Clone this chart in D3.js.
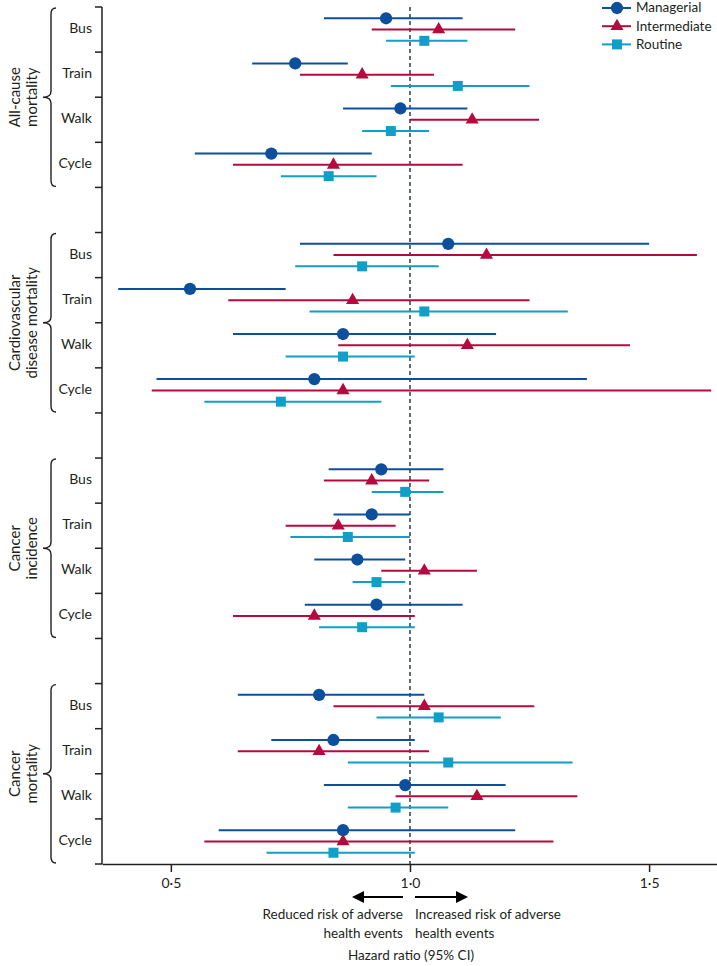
<!DOCTYPE html>
<html>
<head>
<meta charset="utf-8">
<script src="https://cdn.jsdelivr.net/npm/d3@7"></script>
<style>
  body { margin: 0; background: #fff; }
  svg text { font-family: Lato, 'Open Sans', sans-serif; fill: #231f20; }
</style>
</head>
<body>
<div id="main"></div>
<script>
// groups, modes and social classes
const groups = ["All-cause mortality", "Cardiovascular disease mortality", "Cancer incidence", "Cancer mortality"];
const groupLines = [["All-cause", "mortality"], ["Cardiovascular", "disease mortality"], ["Cancer", "incidence"], ["Cancer", "mortality"]];
const modes = ["Bus", "Train", "Walk", "Cycle"];
const classes = ["Managerial", "Intermediate", "Routine"];
const xTicks = [0.5, 1.0, 1.5];

// hazard ratios, 16 values each: group x mode
const managerialHR = [0.95, 0.76, 0.98, 0.71, 1.08, 0.54, 0.86, 0.80, 0.94, 0.92, 0.89, 0.93, 0.81, 0.84, 0.99, 0.86];
const managerialLo = [0.82, 0.67, 0.86, 0.55, 0.77, 0.39, 0.63, 0.47, 0.83, 0.84, 0.80, 0.78, 0.64, 0.71, 0.82, 0.60];
const managerialHi = [1.11, 0.87, 1.12, 0.92, 1.50, 0.74, 1.18, 1.37, 1.07, 1.00, 0.99, 1.11, 1.03, 1.01, 1.20, 1.22];

const intermediateHR = [1.06, 0.90, 1.13, 0.84, 1.16, 0.88, 1.12, 0.86, 0.92, 0.85, 1.03, 0.80, 1.03, 0.81, 1.14, 0.86];
const intermediateLo = [0.92, 0.77, 1.00, 0.63, 0.84, 0.62, 0.85, 0.46, 0.82, 0.74, 0.94, 0.63, 0.84, 0.64, 0.97, 0.57];
const intermediateHi = [1.22, 1.05, 1.27, 1.11, 1.60, 1.25, 1.46, 1.63, 1.04, 0.97, 1.14, 1.01, 1.26, 1.04, 1.35, 1.30];

const routineHR = [1.03, 1.10, 0.96, 0.83, 0.90, 1.03, 0.86, 0.73, 0.99, 0.87, 0.93, 0.90, 1.06, 1.08, 0.97, 0.84];
const routineLo = [0.95, 0.96, 0.90, 0.73, 0.76, 0.79, 0.74, 0.57, 0.92, 0.75, 0.88, 0.81, 0.93, 0.87, 0.87, 0.70];
const routineHi = [1.12, 1.25, 1.04, 0.93, 1.06, 1.33, 1.01, 0.94, 1.07, 1.00, 0.99, 1.01, 1.19, 1.34, 1.08, 1.01];

const width = 717;
const height = 966;
const plotLeft = 102;
const plotTop = 7;
const plotBottom = 864;

const colors = { Managerial: "#0c4f9c", Intermediate: "#b50a3e", Routine: "#0f9fc8" };
const symbols = { Managerial: d3.symbolCircle, Intermediate: d3.symbolTriangle, Routine: d3.symbolSquare };
const symSize = { Managerial: 118, Intermediate: 74, Routine: 100 };

const seriesValues = {
    Managerial: [managerialHR, managerialLo, managerialHi],
    Intermediate: [intermediateHR, intermediateLo, intermediateHi],
    Routine: [routineHR, routineLo, routineHi]
};

// build rows, with an empty spacer row between groups
const rowKeys = [];
groups.forEach((g, gi) => {
    modes.forEach(m => rowKeys.push(g + "|" + m));
    if (gi < groups.length - 1) rowKeys.push("gap" + gi);
});

const rows = [];
groups.forEach((g, gi) => {
    modes.forEach((m, mi) => {
        classes.forEach(c => {
            const v = seriesValues[c];
            const i = gi * modes.length + mi;
            rows.push({ group: g, mode: m, cls: c, hr: v[0][i], lo: v[1][i], hi: v[2][i] });
        });
    });
});

const svg = d3.select("#main")
    .append("svg")
    .attr("width", width)
    .attr("height", height);

const x = d3.scaleLinear()
    .domain([0.356, 1.642])
    .range([plotLeft, width]);

const y = d3.scaleBand()
    .domain(rowKeys)
    .range([plotTop, plotBottom])
    .paddingInner(0)
    .paddingOuter(0);

const ySub = d3.scalePoint()
    .domain(classes)
    .range([0, y.bandwidth()])
    .padding(1);

// reference line at HR = 1
svg.append("line")
    .attr("x1", x(1)).attr("x2", x(1))
    .attr("y1", plotTop).attr("y2", plotBottom)
    .attr("stroke", "#44555f")
    .attr("stroke-width", 1.7)
    .attr("stroke-dasharray", "4,3");

// left axis line and row ticks
svg.append("line")
    .attr("x1", plotLeft).attr("x2", plotLeft)
    .attr("y1", plotTop).attr("y2", plotBottom)
    .attr("stroke", "#231f20")
    .attr("stroke-width", 1.5);

groups.forEach((g, gi) => {
    const top = y(g + "|" + modes[0]);
    const tickYs = modes.map(m => y(g + "|" + m)).concat([top + y.bandwidth() * modes.length]);
    svg.append("g")
        .selectAll("line")
        .data(tickYs)
        .join("line")
        .attr("x1", plotLeft - 7).attr("x2", plotLeft)
        .attr("y1", d => d).attr("y2", d => d)
        .attr("stroke", "#231f20")
        .attr("stroke-width", 1.5);

    // mode labels
    svg.append("g")
        .selectAll("text")
        .data(modes)
        .join("text")
        .attr("x", 92)
        .attr("y", m => y(g + "|" + m) + y.bandwidth() / 2)
        .attr("text-anchor", "end")
        .attr("dominant-baseline", "middle")
        .style("font-size", "14px")
        .text(m => m);

    // brace
    const bTop = top + 1;
    const bBot = top + y.bandwidth() * modes.length - 1;
    const mid = (bTop + bBot) / 2;
    const bx = 51, tipX = 43, endX = 56;
    const brace = d3.path();
    brace.moveTo(endX, bTop);
    brace.quadraticCurveTo(bx, bTop, bx, bTop + 6);
    brace.lineTo(bx, mid - 6);
    brace.quadraticCurveTo(bx, mid, tipX, mid);
    brace.quadraticCurveTo(bx, mid, bx, mid + 6);
    brace.lineTo(bx, bBot - 6);
    brace.quadraticCurveTo(bx, bBot, endX, bBot);
    svg.append("path")
        .attr("d", brace.toString())
        .attr("fill", "none")
        .attr("stroke", "#231f20")
        .attr("stroke-width", 1.4);

    // group label, rotated
    const lab = svg.append("text")
        .attr("transform", "translate(0," + mid + ") rotate(-90)")
        .attr("text-anchor", "middle")
        .style("font-size", "15px");
    groupLines[gi].forEach((t, li) => {
        lab.append("tspan")
            .attr("x", 0)
            .attr("y", 20 + li * 17)
            .text(t);
    });
});

// confidence intervals and markers
svg.append("g")
    .selectAll("line")
    .data(rows)
    .join("line")
    .attr("x1", d => x(d.lo))
    .attr("x2", d => x(d.hi))
    .attr("y1", d => y(d.group + "|" + d.mode) + ySub(d.cls))
    .attr("y2", d => y(d.group + "|" + d.mode) + ySub(d.cls))
    .attr("stroke", d => colors[d.cls])
    .attr("stroke-width", 2);

svg.append("g")
    .selectAll("path")
    .data(rows)
    .join("path")
    .attr("d", d => d3.symbol().type(symbols[d.cls]).size(symSize[d.cls])())
    .attr("transform", d => "translate(" + x(d.hr) + "," + (y(d.group + "|" + d.mode) + ySub(d.cls)) + ")")
    .attr("fill", d => colors[d.cls]);

// x axis
const xAxis = svg.append("g")
    .attr("transform", "translate(0," + plotBottom + ")")
    .call(d3.axisBottom(x)
        .tickValues(xTicks)
        .tickSize(8)
        .tickSizeOuter(0)
        .tickPadding(6)
        .tickFormat(d => d3.format(".1f")(d).replace(".", "·")));
xAxis.select(".domain").attr("stroke", "#231f20").attr("stroke-width", 1.5);
xAxis.selectAll(".tick line").attr("stroke", "#231f20").attr("stroke-width", 1.5);
xAxis.selectAll(".tick text").style("font-size", "14px").attr("fill", "#231f20");

// direction arrows
const arrowY = 897;
const arrows = [[x(1) - 7, x(1) - 58], [x(1) + 5, x(1) + 58]];
arrows.forEach(a => {
    const dir = Math.sign(a[1] - a[0]);
    svg.append("line")
        .attr("x1", a[0]).attr("x2", a[1] - dir * 10)
        .attr("y1", arrowY).attr("y2", arrowY)
        .attr("stroke", "#000").attr("stroke-width", 2);
    svg.append("path")
        .attr("d", "M" + a[1] + "," + arrowY + "L" + (a[1] - dir * 12) + "," + (arrowY - 6) + "L" + (a[1] - dir * 12) + "," + (arrowY + 6) + "Z")
        .attr("fill", "#000");
});

const noteLeft = ["Reduced risk of adverse", "health events"];
const noteRight = ["Increased risk of adverse", "health events"];
noteLeft.forEach((t, i) => {
    svg.append("text")
        .attr("x", x(1) - 7).attr("y", 919 + i * 19)
        .attr("text-anchor", "end")
        .style("font-size", "13.5px")
        .text(t);
});
noteRight.forEach((t, i) => {
    svg.append("text")
        .attr("x", x(1) + 5).attr("y", 919 + i * 19)
        .attr("text-anchor", "start")
        .style("font-size", "13.5px")
        .text(t);
});

svg.append("text")
    .attr("x", x(1) + 1).attr("y", 960)
    .attr("text-anchor", "middle")
    .style("font-size", "13.5px")
    .text("Hazard ratio (95% CI)");

// legend
const legend = svg.append("g")
    .attr("transform", "translate(602,8)");
const legendItem = legend.selectAll("g")
    .data(classes)
    .join("g")
    .attr("transform", (d, i) => "translate(0," + i * 18.2 + ")");
legendItem.append("line")
    .attr("x1", 0).attr("x2", 29)
    .attr("stroke", d => colors[d])
    .attr("stroke-width", 2);
legendItem.append("path")
    .attr("d", d => d3.symbol().type(symbols[d]).size(symSize[d])())
    .attr("transform", "translate(15,0)")
    .attr("fill", d => colors[d]);
legendItem.append("text")
    .attr("x", 34)
    .attr("y", 1)
    .attr("dominant-baseline", "middle")
    .style("font-size", "13.5px")
    .text(d => d);
</script>
</body>
</html>
